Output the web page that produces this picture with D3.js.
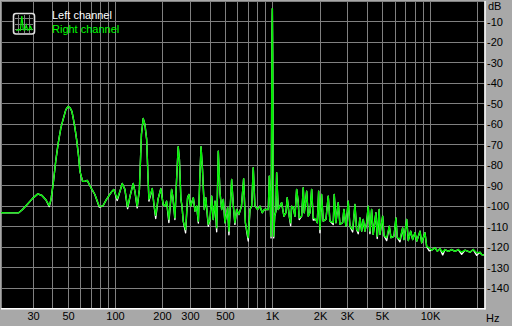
<!DOCTYPE html>
<html>
<head>
<meta charset="utf-8">
<script src="https://cdn.jsdelivr.net/npm/d3@7"></script>
<style>
html, body { margin: 0; padding: 0; background: #a8a8a8; }
svg { display: block; }
text { font-family: "Liberation Sans", Arial, sans-serif; font-size: 11px; }
</style>
</head>
<body>
<div id="chart"></div>
<script>
// spectrum, Hz
var freqs = [
  18.9, 21.5, 24.5, 25.9, 27.9, 30, 32.4, 34.4, 36.5, 38.3,
  39.3, 40.6, 42.2, 43.7, 45.4, 46.9, 48.8, 50.4, 51.8, 53.3,
  54.3, 55.7, 57.1, 58.8, 59.9, 62.3, 64.3, 66.7, 70.4, 74.6,
  79.5, 83.9, 87.7, 90.7, 95.7, 98.5, 103.4, 107.6, 111.3, 115.7,
  120.4, 125.5, 130.7, 134, 138.5, 143.1, 147.4, 151.3, 155.1, 159.1,
  162.1, 164.5, 172.7, 177, 181.6, 187.8, 195.7, 202.6, 207.8, 213,
  220.2, 229.2, 233.6, 240.5, 246.5, 252.4, 256.9, 262.6, 266.8, 271.6,
  281.2, 289.5, 295, 302.6, 314.9, 322.7, 330.9, 338.8, 346, 352.4,
  360, 369.8, 377.8, 391.9, 401.8, 411.9, 421.3, 432.2, 443, 453.6,
  465, 476.7, 488.3, 500, 520, 530, 551.5, 564.5, 578.5, 593.3,
  613.2, 636.7, 657.1, 674, 703, 720.8, 739.1, 756.5, 775, 807,
  834.6, 863, 892, 943, 956, 972, 982, 990, 995, 1000,
  1005, 1012, 1020, 1035, 1054, 1065, 1090, 1117, 1146, 1163,
  1185, 1220, 1243, 1261, 1280, 1307, 1326, 1358, 1392, 1427,
  1461, 1482, 1535, 1572, 1595, 1652, 1691, 1734, 1777, 1819,
  1892, 1929, 1969, 2006, 2056, 2105, 2190, 2265, 2322, 2437,
  2473, 2535, 2622, 2687, 2796, 2849, 2934, 3035, 3112, 3237,
  3348, 3431, 3513, 3602, 3692, 3780, 3875, 3973, 4065, 4167,
  4272, 4373, 4549, 4637, 4774, 4824, 5022, 5118, 5325, 5531,
  5670, 5925, 6097, 6213, 6465, 6725, 6854, 7134, 7303, 7564,
  7788, 8059, 8262, 8670, 8888, 9321, 9556, 9926, 10282, 10790,
  11160, 11610, 12080, 12490, 13110, 13780, 14458, 15175, 15948, 16737,
  18003, 18896, 19861, 20840, 21365, 22096
];

// right channel (green), dB
var rightDb = [
  -103.2, -103.3, -103.2, -101.6, -98.9, -96.2, -94.0, -94.8, -97.0, -99.7,
  -96.7, -88.6, -77.2, -69.0, -61.6, -57.6, -52.8, -51.3, -51.8, -53.7,
  -56.8, -61.6, -67.4, -75.7, -82.9, -87.8, -87.9, -87.4, -90.9, -94.3,
  -100.0, -99.9, -97.2, -95.4, -92.8, -91.8, -96.4, -92.8, -88.9, -91.8,
  -100.3, -94.3, -88.9, -92.8, -100.0, -91.8, -65.0, -57.2, -60.1, -67.4,
  -84.5, -96.7, -91.4, -99.2, -104.5, -96.7, -91.4, -99.2, -100.0, -97.6,
  -106.5, -91.8, -95.7, -105.7, -87.0, -71.0, -77.2, -96.7, -100.0, -107.3,
  -111.4, -95.9, -94.3, -100.0, -95.9, -102.4, -100.0, -107.3, -87.0, -71.0,
  -82.1, -101.6, -95.9, -108.9, -106.5, -95.1, -106.5, -97.6, -110.6, -73.1,
  -93.3, -101.6, -96.7, -108.1, -100.8, -112.2, -87.0, -99.2, -108.1, -101.6,
  -104.1, -100.0, -86.6, -108.1, -115.4, -101.6, -100.0, -81.2, -100.0, -101.6,
  -100.0, -103.2, -101.6, -101.6, -85.3, -99.2, -114.7, -55.2, -14.5, -3.5,
  -25.0, -78.8, -114.7, -104.9, -102.4, -83.7, -101.6, -100.0, -98.3, -101.3,
  -104.9, -103.2, -95.9, -100.0, -104.9, -108.1, -100.0, -100.8, -104.9, -91.8,
  -98.3, -105.7, -104.9, -91.0, -103.2, -92.7, -104.9, -103.2, -91.8, -105.7,
  -106.5, -108.1, -92.7, -111.4, -94.3, -107.3, -106.5, -95.1, -107.3, -108.1,
  -94.3, -108.1, -98.3, -108.9, -108.1, -101.6, -109.8, -97.6, -109.8, -111.4,
  -99.2, -111.4, -112.2, -105.7, -112.2, -106.5, -112.2, -108.1, -100.0, -112.2,
  -101.6, -113.8, -103.2, -114.7, -101.6, -113.8, -104.9, -114.3, -115.4, -109.8,
  -115.4, -114.7, -105.7, -115.4, -116.3, -110.6, -116.3, -106.5, -116.8, -112.2,
  -116.3, -113.0, -117.1, -112.2, -117.9, -113.0, -119.8, -120.3, -121.5, -120.3,
  -122.0, -120.8, -122.5, -121.2, -122.1, -121.2, -122.1, -121.2, -122.5, -121.5,
  -122.5, -121.2, -122.8, -122.5, -123.6, -123.9
];

// left channel (white) - mostly hidden under the green one
var leftDb = [
  -103.2, -103.3, -103.2, -101.6, -98.9, -96.2, -94.0, -94.8, -97.0, -100.2,
  -96.7, -88.6, -77.2, -69.0, -61.6, -57.6, -52.8, -51.3, -51.8, -53.7,
  -56.8, -61.6, -67.4, -75.7, -82.9, -87.8, -87.9, -87.4, -90.9, -94.3,
  -100.4, -99.9, -97.2, -95.4, -92.8, -91.8, -97.2, -92.8, -88.9, -91.8,
  -101.2, -94.3, -88.9, -92.8, -100.8, -91.8, -65.0, -57.2, -60.1, -67.4,
  -84.5, -97.5, -91.4, -99.2, -106.0, -96.7, -91.4, -99.2, -100.0, -97.6,
  -108.0, -91.8, -95.7, -106.5, -87.0, -71.0, -77.2, -96.7, -100.0, -107.3,
  -113.0, -95.9, -94.3, -100.0, -95.9, -102.4, -100.0, -108.2, -87.0, -71.0,
  -82.1, -101.6, -95.9, -109.8, -106.5, -95.1, -106.5, -97.6, -112.5, -73.1,
  -93.3, -101.6, -96.7, -108.1, -100.8, -114.0, -87.0, -99.2, -108.9, -101.6,
  -104.1, -100.0, -86.6, -108.1, -117.0, -101.6, -100.0, -81.2, -100.0, -101.6,
  -100.0, -103.2, -101.6, -101.6, -85.3, -99.2, -115.5, -55.2, -14.5, -3.5,
  -25.0, -78.8, -115.5, -104.9, -102.4, -83.7, -101.6, -100.0, -98.3, -101.3,
  -104.9, -103.2, -95.9, -100.0, -104.9, -109.5, -100.0, -100.8, -104.9, -91.8,
  -98.3, -106.5, -104.9, -91.0, -103.2, -92.7, -104.9, -103.2, -91.8, -106.8,
  -106.5, -108.1, -92.7, -113.0, -94.3, -107.3, -106.5, -95.1, -107.3, -109.0,
  -94.3, -108.1, -98.3, -108.9, -108.1, -101.6, -109.8, -97.6, -109.8, -112.6,
  -99.2, -111.4, -113.5, -105.7, -112.2, -106.5, -112.2, -108.1, -100.0, -113.4,
  -101.6, -113.8, -103.2, -115.8, -101.6, -113.8, -104.9, -114.3, -116.8, -109.8,
  -115.4, -114.7, -105.7, -115.4, -117.4, -110.6, -116.3, -106.5, -116.8, -112.2,
  -116.3, -113.0, -117.1, -112.2, -117.9, -113.0, -119.8, -121.8, -121.5, -120.3,
  -122.0, -120.8, -123.8, -121.2, -122.1, -121.2, -122.1, -121.2, -123.5, -121.5,
  -122.5, -121.2, -124.0, -122.5, -123.6, -123.9
];

var dbGrid = [0, -10, -20, -30, -40, -50, -60, -70, -80, -90, -100, -110, -120, -130, -140, -150];
var dbLabels = [-10, -20, -30, -40, -50, -60, -70, -80, -90, -100, -110, -120, -130, -140];
var hzTicks = [30, 50, 100, 200, 300, 500, 1000, 2000, 3000, 5000, 10000];
var hzLabels = ["30", "50", "100", "200", "300", "500", "1K", "2K", "3K", "5K", "10K"];
var channels = ["Left channel", "Right channel"];
var channelColors = ["#ffffff", "#00ff00"];
// little spectrum in the legend icon
var iconSpec = [0.05, 0.05, 0.1, 0.05, 1, 0.1, 0.05, 0.4, 0.05, 0.1, 0.3, 0.05];

var W = 512, H = 326;
var plot = {l: 1, r: 484.6, t: 1.5, b: 308.5};

var x = d3.scaleLog().domain([18.9, 22300]).range([plot.l, plot.r]);
var y = d3.scaleLinear().domain([0, -150]).range([plot.t, plot.b]);

var svg = d3.select("#chart").append("svg")
  .attr("width", W)
  .attr("height", H);

svg.append("rect")
  .attr("width", W).attr("height", H)
  .attr("fill", "#a8a8a8");

// black plotting area
svg.append("rect")
  .attr("x", 1).attr("y", 1)
  .attr("width", 483.5).attr("height", 307.5)
  .attr("fill", "#000000");

svg.append("clipPath").attr("id", "clip")
  .append("rect")
  .attr("x", 1).attr("y", 1)
  .attr("width", 483.5).attr("height", 307);

var grid = svg.append("g")
  .attr("stroke", "#808080")
  .attr("stroke-width", 1)
  .attr("shape-rendering", "crispEdges");

// vertical grid: 1..9 in each decade, first one at 30Hz
var xGrid = x.ticks().filter(function(f) { return f >= 30 && f <= 22000; });
grid.selectAll(".vx")
  .data(xGrid)
  .enter().append("line")
  .attr("x1", function(d) { return Math.round(x(d)) + 0.5; })
  .attr("x2", function(d) { return Math.round(x(d)) + 0.5; })
  .attr("y1", 1).attr("y2", 308.5);

grid.selectAll(".hy")
  .data(dbGrid)
  .enter().append("line")
  .attr("x1", 1).attr("x2", 484.5)
  .attr("y1", function(d) { return Math.floor(y(d)) + 0.5; })
  .attr("y2", function(d) { return Math.floor(y(d)) + 0.5; });

// left border line
grid.append("line")
  .attr("x1", 1.5).attr("x2", 1.5)
  .attr("y1", 1).attr("y2", 308.5);

// sunken frame, white on the bottom and right
svg.append("line")
  .attr("x1", 1).attr("x2", 485.5)
  .attr("y1", 308.75).attr("y2", 308.75)
  .attr("stroke", "#ffffff").attr("stroke-width", 1.5);
svg.append("line")
  .attr("x1", 485).attr("x2", 485)
  .attr("y1", 1).attr("y2", 309.5)
  .attr("stroke", "#ffffff").attr("stroke-width", 1.5);

// the two channels, white first so green sits on top
var line = d3.line()
  .x(function(d) { return x(d[0]); })
  .y(function(d) { return y(d[1]); });

var series = [leftDb, rightDb].map(function(vals) {
  return freqs.map(function(f, i) { return [f, vals[i]]; });
});

svg.append("g")
  .attr("clip-path", "url(#clip)")
  .selectAll("path")
  .data(series)
  .enter().append("path")
  .attr("d", line)
  .attr("fill", "none")
  .attr("stroke", function(d, i) { return i == 0 ? "#ffffff" : "#00ee00"; })
  .attr("stroke-width", 1.4)
  .attr("stroke-linejoin", "round");

// dB labels on the right
svg.selectAll(".dbl")
  .data(dbLabels)
  .enter().append("text")
  .attr("x", 487)
  .attr("y", function(d) { return y(d) + 4; })
  .attr("fill", "#000")
  .text(function(d) { return d; });

svg.append("text")
  .attr("x", 488).attr("y", 10)
  .attr("fill", "#000")
  .text("dB");

// Hz labels at bottom
svg.selectAll(".hzl")
  .data(hzTicks)
  .enter().append("text")
  .attr("x", function(d) { return Math.round(x(d)) + 0.5; })
  .attr("y", 320)
  .attr("text-anchor", "middle")
  .attr("fill", "#000")
  .text(function(d, i) { return hzLabels[i]; });

svg.append("text")
  .attr("x", 486).attr("y", 322)
  .attr("fill", "#000")
  .text("Hz");

// legend icon
var icon = svg.append("g").attr("transform", "translate(13,13)");
icon.append("rect")
  .attr("x", 0.5).attr("y", 0.5)
  .attr("width", 21).attr("height", 20.5)
  .attr("rx", 2.5)
  .attr("fill", "#000")
  .attr("stroke", "#e0e0e0")
  .attr("stroke-width", 1.6);
var ig = icon.append("g").attr("stroke", "#808080").attr("shape-rendering", "crispEdges");
[5.5, 11.5, 16.5].forEach(function(p) {
  ig.append("line").attr("x1", p).attr("x2", p).attr("y1", 2).attr("y2", 19.5);
  ig.append("line").attr("x1", 2).attr("x2", 20).attr("y1", p).attr("y2", p);
});
var ix = d3.scaleLinear().domain([0, iconSpec.length - 1]).range([3, 19]);
var iy = d3.scaleLinear().domain([0, 1]).range([18, 3]);
icon.append("path")
  .attr("d", d3.line().x(function(d, i) { return ix(i); }).y(function(d) { return iy(d); })(iconSpec))
  .attr("fill", "none")
  .attr("stroke", "#00ee00")
  .attr("stroke-width", 1.2);

svg.selectAll(".leg")
  .data(channels)
  .enter().append("text")
  .attr("x", 52)
  .attr("y", function(d, i) { return 19 + i * 13.5; })
  .attr("fill", function(d, i) { return channelColors[i]; })
  .text(function(d) { return d; });
</script>
</body>
</html>
